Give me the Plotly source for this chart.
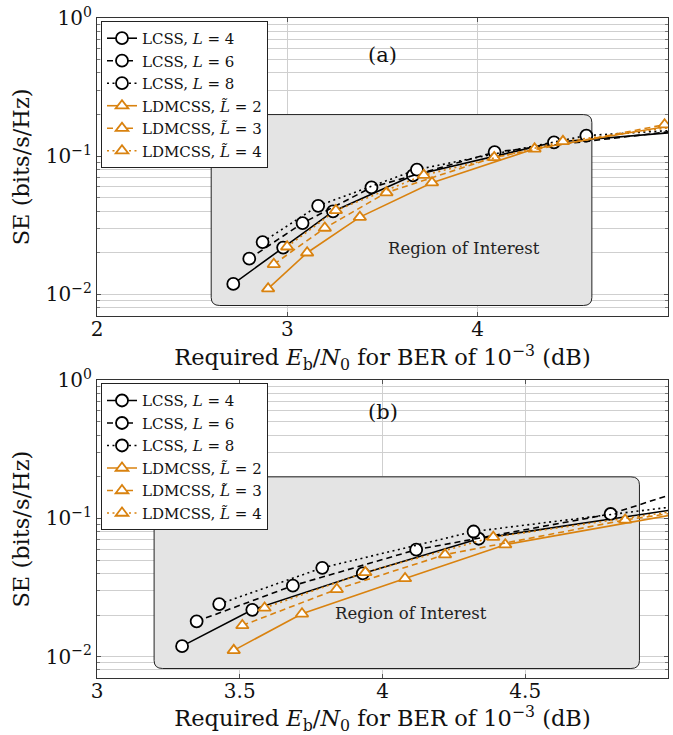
import numpy as np
import plotly.graph_objects as go
from plotly.subplots import make_subplots

# ---------------- data ----------------
# (a) top panel
a_lcss4_x = [2.716, 2.978, 3.240, 3.660, 4.401, 6.70]
a_lcss4_y = [0.0119, 0.0218, 0.0398, 0.0725, 0.126, 0.230]
a_lcss6_x = [2.800, 3.080, 3.442, 4.089, 5.71]
a_lcss6_y = [0.0181, 0.0328, 0.0594, 0.107, 0.195]
a_lcss8_x = [2.870, 3.162, 3.681, 4.571, 7.68]
a_lcss8_y = [0.0239, 0.0437, 0.080, 0.141, 0.255]
a_ldm2_x = [2.899, 3.104, 3.381, 3.760, 4.299, 5.36]
a_ldm2_y = [0.0110, 0.0200, 0.0362, 0.0643, 0.113, 0.200]
a_ldm3_x = [2.929, 3.197, 3.521, 4.087, 4.982]
a_ldm3_y = [0.0165, 0.0302, 0.0545, 0.0980, 0.169]
a_ldm4_x = [2.999, 3.255, 3.717, 4.448, 5.89]
a_ldm4_y = [0.0221, 0.0405, 0.0729, 0.128, 0.230]

# (b) bottom panel
b_lcss4_x = [3.298, 3.544, 3.931, 4.337, 5.14]
b_lcss4_y = [0.0119, 0.0218, 0.040, 0.0713, 0.126]
b_lcss6_x = [3.349, 3.686, 4.118, 4.799, 5.17]
b_lcss6_y = [0.0180, 0.0326, 0.0594, 0.1077, 0.190]
b_lcss8_x = [3.428, 3.789, 4.319, 5.27]
b_lcss8_y = [0.0240, 0.0439, 0.0804, 0.141]
b_ldm2_x = [3.479, 3.718, 4.079, 4.430, 5.09]
b_ldm2_y = [0.0111, 0.0204, 0.0368, 0.0646, 0.113]
b_ldm3_x = [3.509, 3.840, 4.219, 4.850, 5.67]
b_ldm3_y = [0.0168, 0.0307, 0.0547, 0.0976, 0.170]
b_ldm4_x = [3.587, 3.940, 4.388, 5.21]
b_ldm4_y = [0.0225, 0.0407, 0.0732, 0.128]

names = ["LCSS, <i>L</i> = 4", "LCSS, <i>L</i> = 6", "LCSS, <i>L</i> = 8",
         "LDMCSS, <i>L\u0303</i> = 2", "LDMCSS, <i>L\u0303</i> = 3", "LDMCSS, <i>L\u0303</i> = 4"]

y_tickvals = [0.01, 0.1, 1]
y_ticktext = ["10<sup>\u22122</sup>", "10<sup>\u22121</sup>", "10<sup>0</sup>"]
a_xtickvals = [2, 3, 4, 5]
b_xtickvals = [3, 3.5, 4, 4.5, 5]

a_region = (2.6, 4.6, 0.0083, 0.2)
b_region = (3.2, 4.9, 0.0082, 0.2)

# ---------------- style ----------------
FONT = "DejaVu Serif"
BLACK = "#000000"
ORANGE = "#d9820f"
GRID = "#cfcfcf"
dashes = ["solid", "6px,4px", "2px,3.5px"]

fig = make_subplots(rows=2, cols=1, vertical_spacing=0.0978)

sets = [
    (1, "legend", [(a_lcss4_x, a_lcss4_y), (a_lcss6_x, a_lcss6_y), (a_lcss8_x, a_lcss8_y),
                   (a_ldm2_x, a_ldm2_y), (a_ldm3_x, a_ldm3_y), (a_ldm4_x, a_ldm4_y)]),
    (2, "legend2", [(b_lcss4_x, b_lcss4_y), (b_lcss6_x, b_lcss6_y), (b_lcss8_x, b_lcss8_y),
                    (b_ldm2_x, b_ldm2_y), (b_ldm3_x, b_ldm3_y), (b_ldm4_x, b_ldm4_y)]),
]

for row, leg, series in sets:
    for i, (xs, ys) in enumerate(series):
        color = BLACK if i < 3 else ORANGE
        symbol = "circle" if i < 3 else "triangle-up"
        fig.add_trace(go.Scatter(
            x=xs, y=ys, mode="lines+markers", name=names[i], legend=leg,
            line=dict(color=color, width=1.6, dash=dashes[i % 3]),
            marker=dict(symbol=symbol, size=12 if i < 3 else 11, color="white",
                        line=dict(color=color, width=1.8)),
        ), row=row, col=1)


def rounded_box(x0, x1, y0, y1, rx, rdec):
    f = 10 ** rdec
    return (f"M {x0 + rx},{y0} L {x1 - rx},{y0} Q {x1},{y0} {x1},{y0 * f} "
            f"L {x1},{y1 / f} Q {x1},{y1} {x1 - rx},{y1} "
            f"L {x0 + rx},{y1} Q {x0},{y1} {x0},{y1 / f} "
            f"L {x0},{y0 * f} Q {x0},{y0} {x0 + rx},{y0} Z")


for (x0, x1, y0, y1), xr, yr, rx in [(a_region, "x", "y", 0.045), (b_region, "x2", "y2", 0.03)]:
    fig.add_shape(type="path", path=rounded_box(x0, x1, y0, y1, rx, 0.058),
                  xref=xr, yref=yr, layer="between",
                  fillcolor="#e4e4e4", line=dict(color="#222222", width=1))

ann_font = dict(family=FONT, size=16.5, color="#222")
fig.add_annotation(x=3.93, y=np.log10(0.0214), xref="x", yref="y", text="Region of Interest",
                   showarrow=False, font=ann_font)
fig.add_annotation(x=4.10, y=np.log10(0.0204), xref="x2", yref="y2", text="Region of Interest",
                   showarrow=False, font=ann_font)
fig.add_annotation(x=3.5, y=np.log10(0.54), xref="x", yref="y", text="(a)",
                   showarrow=False, font=dict(family=FONT, size=21, color="#111"))
fig.add_annotation(x=4.0, y=np.log10(0.59), xref="x2", yref="y2", text="(b)",
                   showarrow=False, font=dict(family=FONT, size=21, color="#111"))

xtitle = "Required <i>E</i><sub>b</sub>/<i>N</i><sub>0</sub> for BER of 10<sup>\u22123</sup> (dB)"
tick_font = dict(family=FONT, size=20, color="#111")
title_font = dict(family=FONT, size=22.5, color="#111")

common_axis = dict(showline=True, linecolor="#333", linewidth=1.3, mirror="ticks",
                   ticks="inside", ticklen=4, tickcolor="#555", showgrid=True,
                   gridcolor=GRID, gridwidth=1, zeroline=False, tickfont=tick_font)

fig.update_xaxes(range=[2, 5], tickvals=a_xtickvals, title=dict(text=xtitle, font=title_font, standoff=2),
                 ticklabelstandoff=-5, **common_axis, row=1, col=1)
fig.update_xaxes(range=[3, 5], tickvals=b_xtickvals, title=dict(text=xtitle, font=title_font, standoff=2),
                 ticklabelstandoff=-5, **common_axis, row=2, col=1)
for r in (1, 2):
    fig.update_yaxes(type="log", range=[np.log10(0.007), 0], tickvals=y_tickvals, ticktext=y_ticktext,
                     title=dict(text="SE (bits/s/Hz)", font=title_font, standoff=9),
                     minor=dict(dtick="D1", showgrid=True, gridcolor=GRID, ticks="inside", ticklen=3,
                                tickcolor="#777"),
                     **common_axis, row=r, col=1)

leg_common = dict(xanchor="left", yanchor="top", bgcolor="white", bordercolor="#222",
                  borderwidth=1, font=dict(family=FONT, size=15, color="#111"),
                  itemwidth=30, tracegroupgap=0, x=0.007)
fig.update_layout(
    width=673, height=735,
    margin=dict(l=97, r=4, t=13, b=57),
    plot_bgcolor="white", paper_bgcolor="white",
    font=dict(family=FONT, color="#111"),
    legend=dict(**leg_common, y=0.9955),
    legend2=dict(**leg_common, y=0.4466),
)
fig.update_layout(yaxis=dict(domain=[0.5489, 1.0]), yaxis2=dict(domain=[0.0, 0.4511]))

fig.write_html("out.html")
